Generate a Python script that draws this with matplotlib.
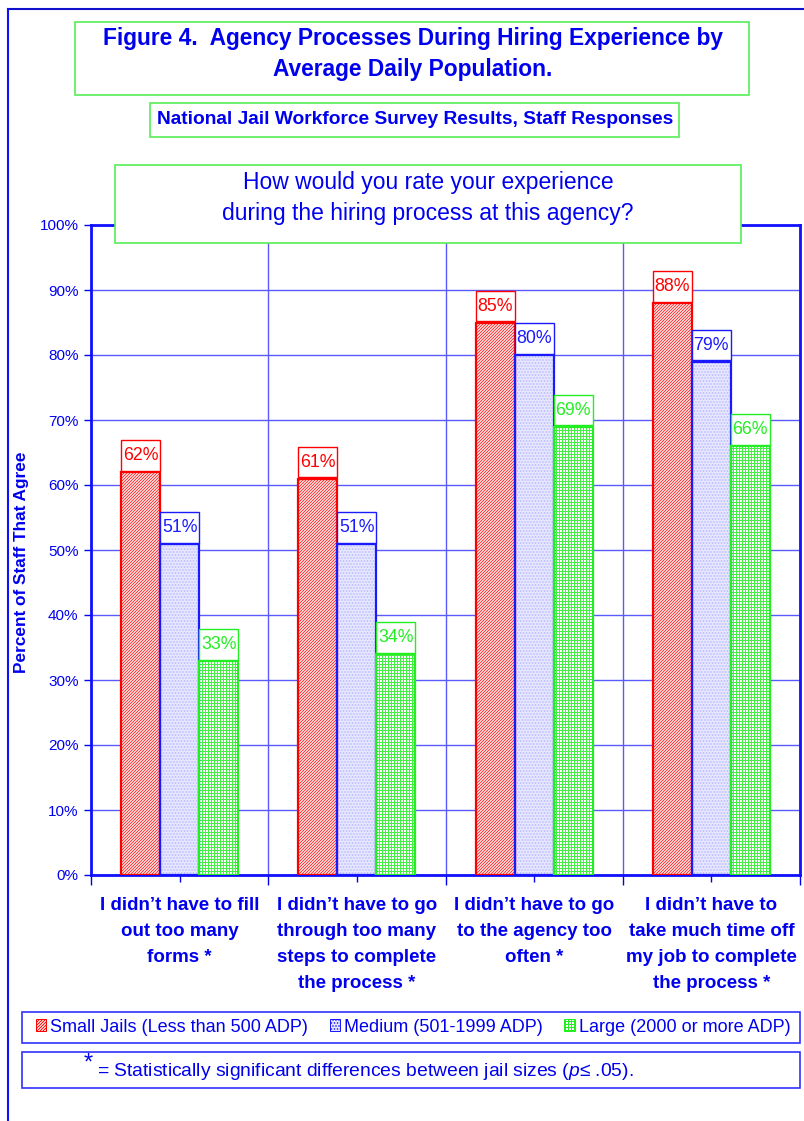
import numpy as np
import matplotlib.pyplot as plt
from matplotlib.patches import Rectangle, Patch
from matplotlib.lines import Line2D
from matplotlib.path import Path

# work at 72 dpi so hatch lines land on whole pixels; sizes below are
# written as if at 100 dpi and scaled by S
DPI = 72
S = 100 / DPI

plt.rcParams['font.family'] = ['Liberation Sans', 'DejaVu Sans']
plt.rcParams['mathtext.fontset'] = 'custom'
plt.rcParams['mathtext.rm'] = 'Liberation Sans'
plt.rcParams['mathtext.it'] = 'Liberation Sans:italic'
plt.rcParams['hatch.linewidth'] = 1.0

# survey results (percent of staff that agree)
categories = ["I didn\u2019t have to fill\nout too many\nforms *",
              "I didn\u2019t have to go\nthrough too many\nsteps to complete\nthe process *",
              "I didn\u2019t have to go\nto the agency too\noften *",
              "I didn\u2019t have to\ntake much time off\nmy job to complete\nthe process *"]
series_names = ["Small Jails (Less than 500 ADP)",
                "Medium (501-1999 ADP)",
                "Large (2000 or more ADP)"]
small = [62, 61, 85, 88]
medium = [51, 51, 80, 79]
large = [33, 34, 69, 66]
y_ticks = [0, 10, 20, 30, 40, 50, 60, 70, 80, 90, 100]

BLUE = '#0000ee'
GRID = '#5a5aff'
RED = '#ff0000'
GREEN = '#22ee22'
BOXGREEN = '#55ee55'

# fill, hatch, hatch colour, edge colour for each jail size
styles = [('white', '/' * 8, '#ff3030', RED),
          ('#e6e6ff', '....', '#b8b8ff', '#1a1aff'),
          ('white', '++++', '#44ee44', GREEN)]

W, H = 804, 1121
fig = plt.figure(figsize=(W / DPI, H / DPI), dpi=DPI)


def fx(px):
    return px / W


def fy(py):
    return 1 - py / H


def fig_box(x0, y0, x1, y1, color, lw=1.2):
    fig.patches.append(Rectangle((fx(x0), fy(y1)), fx(x1) - fx(x0), fy(y0) - fy(y1),
                                 transform=fig.transFigure, fill=True, facecolor='white',
                                 edgecolor=color, lw=lw * S, zorder=5))


def label_box(x0, y0, width, height, mutation_size):
    # narrow sides, taller top and bottom
    px, py = 0.1 * mutation_size, 0.38 * mutation_size
    return Path([(x0 - px, y0 - py), (x0 + width + px, y0 - py),
                 (x0 + width + px, y0 + height + py), (x0 - px, y0 + height + py),
                 (x0 - px, y0 - py)], closed=True)


ax = fig.add_axes([fx(91), fy(875), fx(800) - fx(91), fy(225) - fy(875)])

x = np.arange(len(categories))
bw = 0.22
lab_size = 12.8 * S
for i, vals in enumerate([small, medium, large]):
    fc, hatch, hc, ec = styles[i]
    pos = x + (i - 1) * bw
    ax.bar(pos, vals, bw, facecolor=fc, hatch=hatch, edgecolor=hc, lw=0, zorder=3)
    ax.bar(pos, vals, bw, fill=False, edgecolor=ec, lw=1.6 * S, zorder=4)
    for xp, v in zip(pos, vals):
        ax.annotate(f"{v}%", (xp, v), xytext=(0, 0.38 * lab_size + 1),
                    textcoords='offset points', ha='center', va='bottom',
                    fontsize=lab_size, color=ec, zorder=6,
                    bbox=dict(boxstyle=label_box, fc='white', ec=ec, lw=1.0 * S))

ax.set_xlim(-0.5, len(categories) - 0.5)
ax.set_ylim(0, 100)
ax.set_yticks(y_ticks)
ax.set_yticklabels([f"{t}%" for t in y_ticks], fontsize=11 * S, color=BLUE)
ax.set_xticks(np.arange(len(categories) + 1) - 0.5)
ax.set_xticklabels([])
ax.set_xticks(x, minor=True)
ax.set_xticklabels(categories, minor=True, fontsize=13.5 * S, fontweight='bold',
                   color=BLUE, linespacing=1.68)
ax.tick_params(axis='x', which='major', length=7 * S, color=BLUE, width=S)
ax.tick_params(axis='x', which='minor', length=5 * S, color=BLUE, width=S, pad=11 * S)
ax.tick_params(axis='y', length=5 * S, color=BLUE, width=S, pad=4 * S)
ax.grid(axis='y', color=GRID, lw=S, zorder=1)
ax.grid(axis='x', which='major', color=GRID, lw=S, zorder=1)
ax.set_axisbelow(True)
for s in ax.spines.values():
    s.set_color('#1010ff')
    s.set_linewidth(2 * S)
fig.text(fx(22), fy(562), "Percent of Staff That Agree", rotation=90, ha='center',
         va='center', fontsize=12.4 * S, fontweight='bold', color=BLUE)

# page frame lines
fig.add_artist(Line2D([fx(8), 1], [fy(9), fy(9)], color='#1010cc', lw=1.5 * S))
fig.add_artist(Line2D([fx(8), fx(8)], [fy(9), 0], color='#1010ff', lw=1.5 * S))

# title boxes
fig_box(75, 22, 749, 95, BOXGREEN)
fig.text(fx(413), fy(54), "Figure 4.  Agency Processes During Hiring Experience by\nAverage Daily Population.",
         ha='center', va='center', fontsize=16.4 * S, fontweight='bold', color=BLUE,
         linespacing=1.41, zorder=6)
fig_box(150, 103, 679, 137, BOXGREEN)
fig.text(fx(415), fy(120), "National Jail Workforce Survey Results, Staff Responses",
         ha='center', va='center', fontsize=13.8 * S, fontweight='bold', color=BLUE, zorder=6)
fig_box(115, 165, 741, 243, BOXGREEN)
fig.text(fx(428), fy(198), "How would you rate your experience\nduring the hiring process at this agency?",
         ha='center', va='center', fontsize=16.5 * S, color=BLUE, linespacing=1.45, zorder=6)

# legend
fig_box(22, 1012, 800, 1043, '#3030ff')
handles = [Patch(facecolor=fc, hatch=h, edgecolor=ec) for fc, h, hc, ec in styles]
leg = fig.legend(handles, series_names, loc='center', bbox_to_anchor=(fx(413), fy(1027)),
                 ncol=3, frameon=False, fontsize=13 * S, handlelength=0.6,
                 handleheight=0.6, handletextpad=0.2, columnspacing=1.2)
leg.set_zorder(7)
for t in leg.get_texts():
    t.set_color(BLUE)

# significance note
fig_box(22, 1052, 800, 1088, '#3030ff')
fig.text(fx(88), fy(1064), "*", ha='center', va='center', fontsize=17 * S, color=BLUE, zorder=7)
fig.text(fx(97), fy(1071), "= Statistically significant differences between jail sizes ($\\mathit{p}$\u2264 .05).",
         ha='left', va='center', fontsize=13.9 * S, color=BLUE, zorder=7)

fig.savefig("out.png", dpi=DPI)
